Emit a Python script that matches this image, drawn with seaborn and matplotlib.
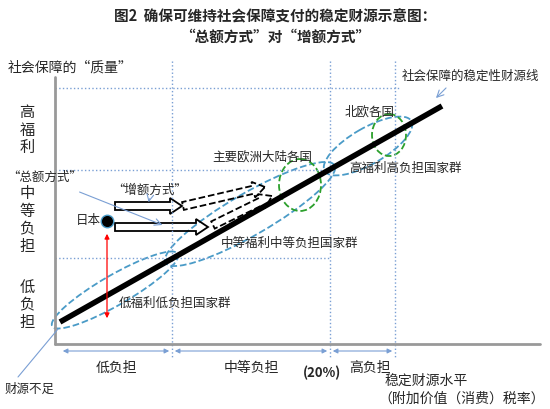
import matplotlib
matplotlib.use("Agg")
import matplotlib.pyplot as plt
import seaborn as sns
from matplotlib.patches import Ellipse, FancyArrow
sns.set_theme(style="white")
plt.rcParams['font.family'] = ['Noto Sans CJK SC', 'DejaVu Sans']

# schematic data (pixel-like coordinates of the concept diagram)
line_x = [60, 442]
line_y = [323, 107]
zone_x = [60, 172, 330, 395]
zone_labels = ["低负担", "中等负担", "高负担"]
grid_y = [89, 171, 259]
japan = (107, 222)
group_labels = ["低福利低负担国家群", "中等福利中等负担国家群", "高福利高负担国家群"]

fig = plt.figure(figsize=(5.5, 4.1), dpi=100)
ax = fig.add_axes([0, 0, 1, 1])
ax.set_xlim(0, 550); ax.set_ylim(410, 0); ax.axis("off")

ax.text(275, 16, "图2  确保可维持社会保障支付的稳定财源示意图：", ha="center", va="center", fontsize=10.5, fontweight="bold")
ax.text(275, 37, "“总额方式”对“增额方式”", ha="center", va="center", fontsize=10.5, fontweight="bold")

gc = "#7a9fd4"
for gx in zone_x[1:]:
    ax.plot([gx, gx], [62, 358], ls=":", color=gc, lw=1)
ax.plot([55, 400], [grid_y[0]]*2, ls=":", color=gc, lw=1)
ax.plot([55, 335], [grid_y[1]]*2, ls=":", color=gc, lw=1)
ax.plot([55, 330], [grid_y[2]]*2, ls=":", color=gc, lw=1)

ax.plot([55, 55], [78, 345], color="#999999", lw=2)
ax.plot([55, 540], [345, 345], color="#999999", lw=2)

ax.plot(line_x, line_y, color="black", lw=4, solid_capstyle="butt")

for a, b in zip(zone_x[:-1], zone_x[1:]):
    ax.annotate("", xy=(b, 352), xytext=(a, 352), arrowprops=dict(arrowstyle="<|-|>", color=gc, lw=0.8, mutation_scale=7))
for (a, b), lab in zip(zip(zone_x[:-1], zone_x[1:]), zone_labels):
    ax.text((a+b)/2 + (8 if a == 330 else 0), 368, lab, ha="center", va="center", fontsize=10)
ax.text(322, 373, "(20%)", ha="center", va="center", fontsize=9.5, fontweight="bold")

ax.text(27, 130, "高\n福\n利", ha="center", va="center", fontsize=11, linespacing=1.05)
ax.text(27, 220, "中\n等\n负\n担", ha="center", va="center", fontsize=11, linespacing=1.05)
ax.text(27, 305, "低\n负\n担", ha="center", va="center", fontsize=11, linespacing=1.05)
ax.text(8, 68, "社会保障的“质量”", ha="left", va="center", fontsize=10)
ax.text(385, 381, "稳定财源水平", ha="left", va="center", fontsize=10)
ax.text(378, 399, "（附加价值（消费）税率）", ha="left", va="center", fontsize=10)

ec = "#4a9bc7"
for c, w, h in [((115, 291), 145, 30), ((250, 215), 195, 42), ((368, 147), 100, 36)]:
    ax.add_patch(Ellipse(c, w, h, angle=-30, fill=False, ls="--", color=ec, lw=1.3))
ax.add_patch(Ellipse((300, 186), 42, 52, fill=False, ls="--", color="#2ca02c", lw=1.3))
ax.add_patch(Ellipse((389, 136), 34, 42, fill=False, ls="--", color="#2ca02c", lw=1.3))

ax.plot([japan[0]], [japan[1]], "o", ms=9, color="black", mec=ec, mew=1)
ax.text(88, 221, "日本", ha="center", va="center", fontsize=9)
ax.annotate("", xy=(107, 232), xytext=(107, 322), arrowprops=dict(arrowstyle="<|-|>", color="red", lw=0.9, mutation_scale=7))

for (x0, y0, x1, y1, ls) in [(115, 207, 182, 207, "-"), (115, 228, 208, 228, "-"),
                             (183, 207, 265, 188, "--"), (213, 226, 272, 197, "--")]:
    ax.add_patch(FancyArrow(x0, y0, x1-x0, y1-y0, width=8, head_width=16, head_length=12,
                            length_includes_head=True, fill=False, ec="black", lw=1.3, ls=ls))

ax.text(370, 112, "北欧各国", ha="center", va="center", fontsize=9)
ax.text(262, 157, "主要欧洲大陆各国", ha="center", va="center", fontsize=9)
ax.text(405, 168, group_labels[2], ha="center", va="center", fontsize=9)
ax.text(290, 243, group_labels[1], ha="center", va="center", fontsize=9)
ax.text(175, 303, group_labels[0], ha="center", va="center", fontsize=9)
ax.text(470, 76, "社会保障的稳定性财源线", ha="center", va="center", fontsize=9)
ax.annotate("", xy=(434, 101), xytext=(448, 87), arrowprops=dict(arrowstyle="->", color=gc, lw=0.8))
ax.text(45, 177, "“总额方式”", ha="center", va="center", fontsize=9)
ax.annotate("", xy=(165, 227), xytext=(77, 192), arrowprops=dict(arrowstyle="->", color=gc, lw=0.8))
ax.text(150, 190, "“增额方式”", ha="center", va="center", fontsize=9)
ax.annotate("", xy=(148, 206), xytext=(150, 197), arrowprops=dict(arrowstyle="->", color=gc, lw=0.8))
ax.text(30, 389, "财源不足", ha="center", va="center", fontsize=9)
ax.plot([18, 58], [378, 330], color=gc, lw=0.8)

fig.savefig("out.png", dpi=100)
